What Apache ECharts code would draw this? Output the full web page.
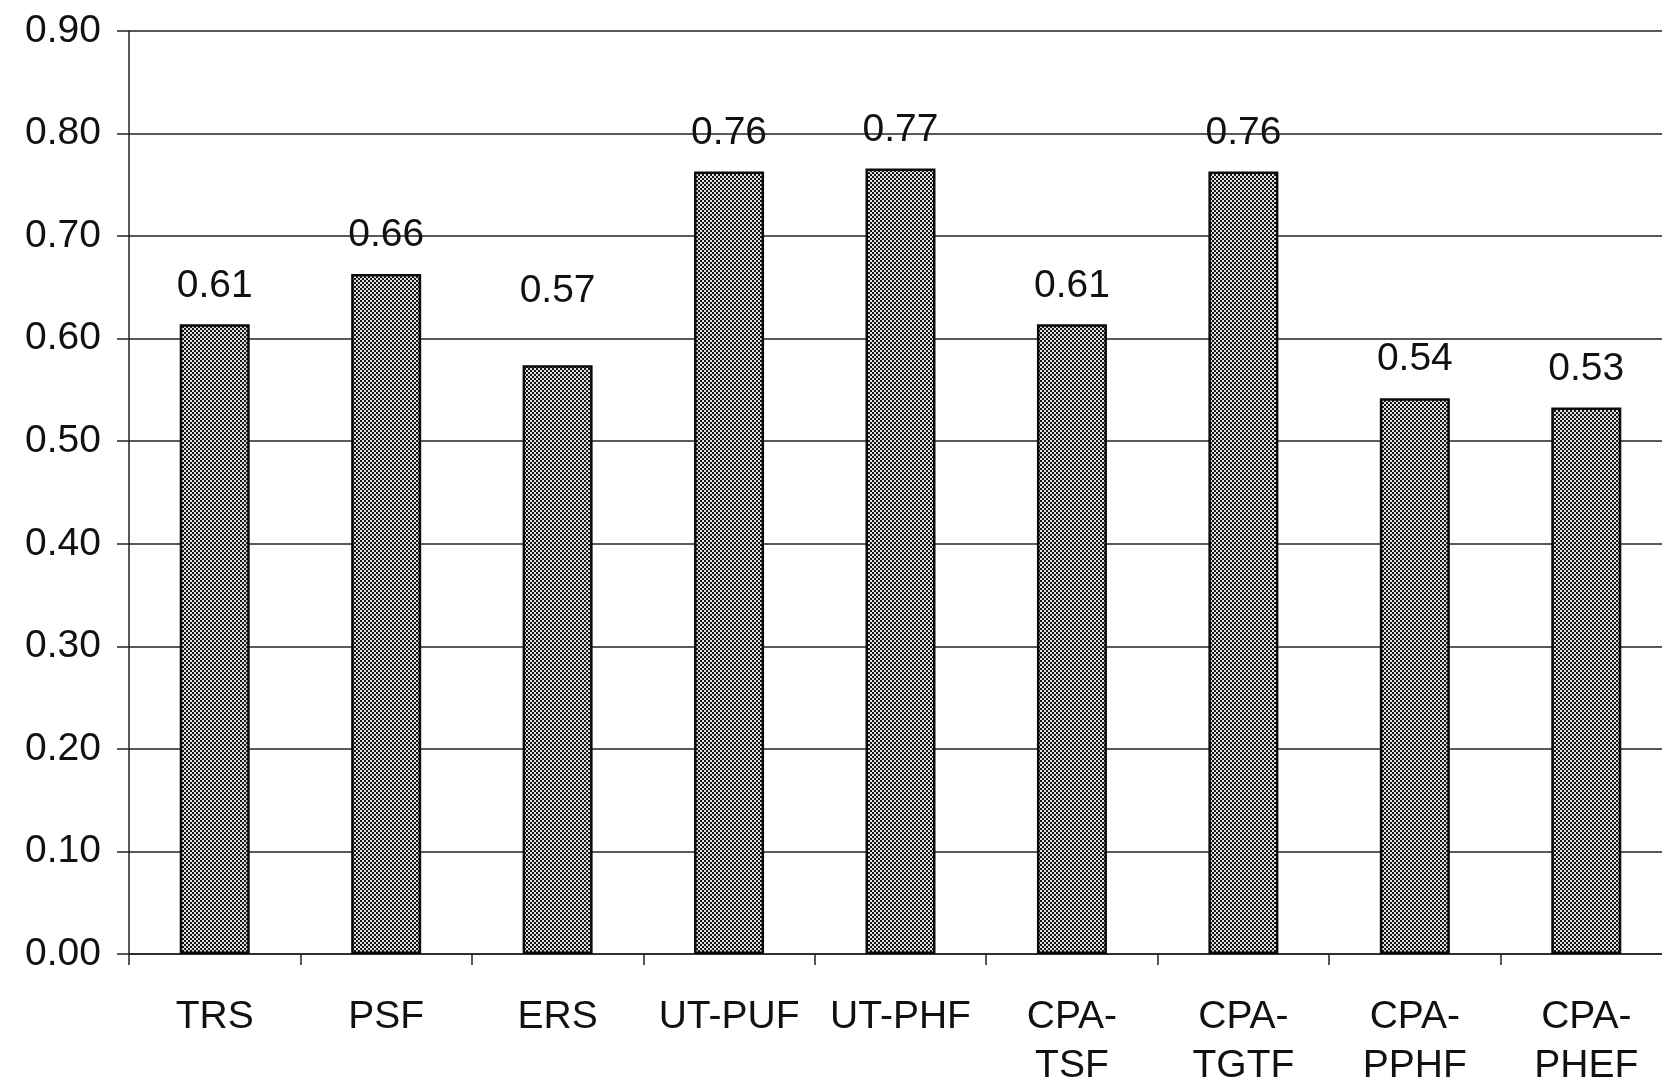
<!DOCTYPE html>
<html>
<head>
<meta charset="utf-8">
<script src="https://cdn.jsdelivr.net/npm/echarts@6/dist/echarts.min.js"></script>
<style>
html,body{margin:0;padding:0;background:#fff;}
#chart{width:1662px;height:1087px;}
</style>
</head>
<body>
<div id="chart"></div>
<script>
// ---- data ----
const categories = ['TRS', 'PSF', 'ERS', 'UT-PUF', 'UT-PHF', 'CPA-\nTSF', 'CPA-\nTGTF', 'CPA-\nPPHF', 'CPA-\nPHEF'];
const values = [0.614, 0.663, 0.574, 0.763, 0.766, 0.614, 0.763, 0.542, 0.533];
const yTicks = { min: 0, max: 0.9, interval: 0.1 };

// ---- styling ----
const FONT = '"Liberation Sans", Arial, sans-serif';
const TXT = '#111';

function makePattern() {
  const c = document.createElement('canvas');
  c.width = 4; c.height = 4;
  const ctx = c.getContext('2d');
  ctx.fillStyle = '#e0e0e0';
  ctx.fillRect(0, 0, 4, 4);
  ctx.fillStyle = '#151515';
  ctx.fillRect(0, 0, 2, 2);
  ctx.fillRect(2, 2, 2, 2);
  return c;
}
const pattern = makePattern();

// label shift for the ERS label, which sits higher in the source
const labelShift = { 2: [0, -36] };

const seriesData = values.map((v, i) => {
  const item = { value: v };
  if (labelShift[i]) item.label = { offset: labelShift[i] };
  return item;
});

const chart = echarts.init(document.getElementById('chart'), null, { renderer: 'canvas' });
chart.setOption({
  animation: false,
  backgroundColor: '#fff',
  grid: { left: 129, top: 31, right: -10, bottom: 133, containLabel: false, outerBoundsMode: 'none' },
  xAxis: {
    type: 'category',
    data: categories,
    axisLine: { show: true, lineStyle: { color: '#222', width: 1.5 } },
    axisTick: { show: true, length: 11, alignWithLabel: false, lineStyle: { color: '#222', width: 1.5 } },
    axisLabel: { fontFamily: FONT, fontSize: 39, lineHeight: 49, color: TXT, margin: 39, interval: 0 },
    splitLine: { show: false }
  },
  yAxis: {
    type: 'value',
    min: yTicks.min, max: yTicks.max, interval: yTicks.interval,
    axisLine: { show: true, lineStyle: { color: '#222', width: 1.5 } },
    axisTick: { show: true, length: 12, lineStyle: { color: '#222', width: 1.5 } },
    axisLabel: { fontFamily: FONT, fontSize: 39, color: TXT, margin: 28, formatter: v => v.toFixed(2) },
    splitLine: { show: true, lineStyle: { color: '#222', width: 1.5 } }
  },
  series: [{
    type: 'bar',
    data: seriesData,
    barWidth: 70,
    itemStyle: { color: { image: pattern, repeat: 'repeat' }, borderColor: '#0a0a0a', borderWidth: 2.5 },
    label: {
      show: true, position: 'top', distance: 19,
      fontFamily: FONT, fontSize: 39, color: TXT,
      formatter: p => p.value.toFixed(2)
    }
  }]
});
</script>
</body>
</html>
